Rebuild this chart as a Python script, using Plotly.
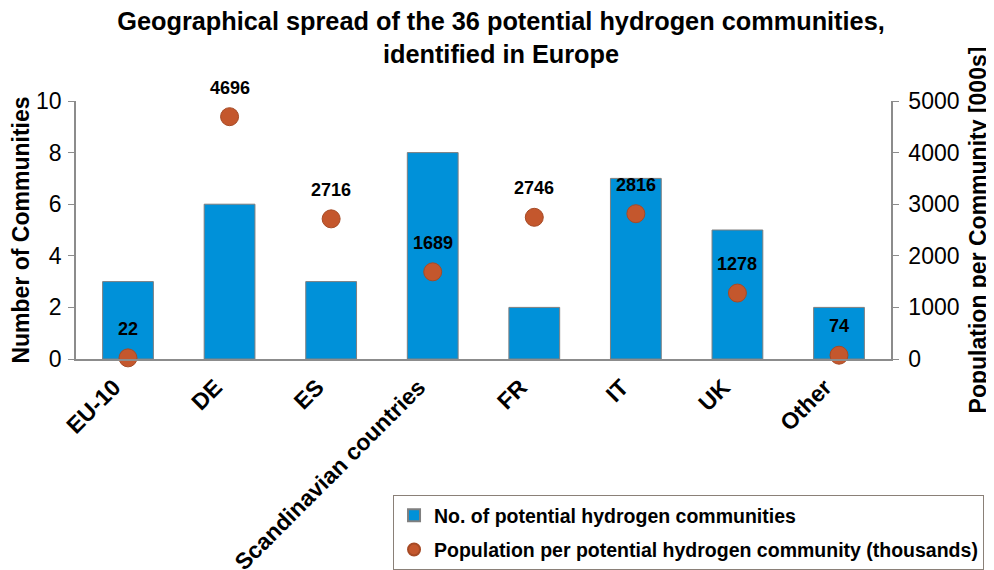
import plotly.graph_objects as go

categories = ["EU-10", "DE", "ES", "Scandinavian countries", "FR", "IT", "UK", "Other"]
communities = [3, 6, 3, 8, 2, 7, 5, 2]
population = [22, 4696, 2716, 1689, 2746, 2816, 1278, 74]

FONT = "Liberation Sans, Arial, sans-serif"
AXIS_GREY = "#8c8c8c"

fig = go.Figure()

fig.add_trace(go.Bar(
    x=categories,
    y=communities,
    name="No. of potential hydrogen communities",
    marker=dict(color="#0091d9", line=dict(color="#7f7f7f", width=1)),
    width=0.5,
    legendgroup="a",
))

fig.add_trace(go.Scatter(
    x=categories,
    y=population,
    name="Population per potential hydrogen community (thousands)",
    mode="markers",
    marker=dict(color="#c4572d", size=18, line=dict(color="#a64a25", width=1)),
    yaxis="y2",
    cliponaxis=False,
    legendgroup="b",
))

# value labels above the population markers
for cat, val in zip(categories, population):
    fig.add_annotation(
        x=cat, y=val, yref="y2",
        text=str(val), showarrow=False,
        yshift=29,
        font=dict(family=FONT, size=18, color="black", weight="bold"),
    )

# page body has an 8px margin, so the figure is sized to fill the rest
fig.update_layout(
    width=986,
    height=562,
    margin=dict(l=68, r=103, t=93, b=211, autoexpand=False),
    paper_bgcolor="white",
    plot_bgcolor="white",
    font=dict(family=FONT, size=18, color="black"),
    title=dict(
        text="Geographical spread of the 36 potential hydrogen communities,<br>identified in Europe",
        x=0.5, xref="container", xanchor="center",
        y=0.96, yanchor="top",
        font=dict(family=FONT, size=25.3, weight="bold"),
    ),
    xaxis=dict(
        tickangle=-45,
        tickfont=dict(size=23, weight="bold"),
        ticklabelshift=-14,
        ticklabelstandoff=4,
        showline=True, linecolor=AXIS_GREY, linewidth=1.5,
        ticks="",
        showgrid=False,
        automargin=False,
    ),
    yaxis=dict(
        range=[0, 10], dtick=2,
        showline=True, linecolor=AXIS_GREY, linewidth=1.5,
        ticks="outside", tickcolor=AXIS_GREY, ticklen=6,
        ticklabelstandoff=2,
        showgrid=False, zeroline=False,
        tickfont=dict(size=23),
        automargin=False,
        title=dict(text="Number of Communities", font=dict(size=23, weight="bold"), standoff=6),
    ),
    yaxis2=dict(
        range=[0, 5000], dtick=1000,
        overlaying="y", side="right",
        showline=True, linecolor=AXIS_GREY, linewidth=1.5,
        ticks="outside", tickcolor=AXIS_GREY, ticklen=6,
        ticklabelstandoff=5,
        showgrid=False, zeroline=False,
        tickfont=dict(size=23),
        automargin=False,
        title=dict(text="Population per Community [000s]", font=dict(size=23, weight="bold"), standoff=11),
    ),
    legend=dict(
        x=0.389, y=-0.527, xanchor="left", yanchor="top",
        bordercolor="#8a8078", borderwidth=1,
        font=dict(size=19.5, weight="bold"),
        traceorder="grouped", tracegroupgap=6,
        itemsizing="constant",
    ),
)

fig.write_html("out.html")
